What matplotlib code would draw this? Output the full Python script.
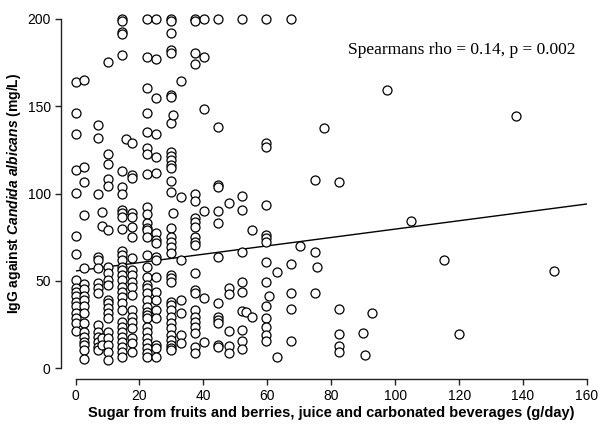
import numpy as np
import matplotlib
matplotlib.use("Agg")
import matplotlib.pyplot as plt

# x position of each column of points (g/day) and the IgG values in it (mg/L)
col_x = [0, 2.8, 7.1, 8.2, 10.3, 14.6, 15.8, 17.8, 22.4, 25.3,
         29.8, 30.6, 32.9, 37.3, 40.3, 44.7, 48.0, 52.2, 53.3, 55.3,
         59.7, 60.6, 62.9, 67.3, 70.2, 74.8, 75.6, 77.8, 82.4, 89.9,
         90.5, 92.9, 97.4, 104.8, 115.2, 119.9, 137.9, 149.8]
col_y = [
    [164, 146, 134, 113.5, 100.5, 75.6, 65.3, 50.2, 45.7, 43.8, 41, 38, 35.3, 31.3, 28.5, 26, 21.4],
    [165, 115, 106.4, 87.7, 57.5, 48.3, 45.2, 41.5, 39, 35.3, 31.5, 25.6, 20.8, 17.5, 15, 13.2, 10.3, 5.3],
    [139.3, 132, 100, 63.8, 61.9, 57.1, 48.5, 45.7, 42.8, 24.6, 20.8, 17.9, 15.1, 12.2, 10.3],
    [89.6, 81.4, 17, 13.2],
    [175.4, 122.5, 116.7, 108.3, 104.5, 79, 58, 54.2, 50.4, 47.6, 39, 37, 34.2, 31.3, 28.5, 20.8, 17, 13.2, 9.4, 4.6],
    [200, 199, 192.3, 191.5, 179.4, 113, 103.5, 100, 90.5, 88.6, 86.3, 79.5, 67, 64.5, 61.9, 58, 56.2, 53.3,
     50.4, 46.6, 43.8, 40.9, 37, 33.2, 26.5, 23.7, 20.8, 17.9, 15.1, 12.2, 9.4, 6.5],
    [131],
    [129, 110.6, 109, 88.6, 86.3, 81, 75, 62.9, 56.2, 53.3, 49.5, 46.6, 41.8, 33.2, 29.4, 26.5, 22.7, 17, 14.1, 9.4],
    [200, 178, 160.3, 146.3, 135.2, 125.9, 122.4, 111, 92.5, 88, 83, 80, 79, 75, 64.8, 58, 52.3, 47.6, 45.7,
     42.8, 39, 35.1, 32.3, 30.4, 28.5, 23.7, 20.8, 17, 14.1, 11.3, 8.4, 6.5],
    [200, 177, 155, 134, 121, 111.5, 77.2, 73.4, 71.5, 63.4, 61.9, 52.3, 43.8, 39, 33.2, 28.5, 13.2, 11.3, 6.5],
    [200, 199, 192, 182.2, 180.3, 156.5, 155.5, 140.2, 124, 121.7, 119.2, 116.3, 114.4, 107.3, 101, 80, 75.2,
     72.4, 69.5, 65.7, 53.3, 51.4, 49.5, 38, 36.1, 33.2, 29.4, 25.6, 22.7, 18.9, 16, 13.2, 11.3, 10.3],
    [145.2, 88.6],
    [164.5, 97.8, 61.9, 39, 31.3, 18.9, 14.1],
    [200, 199, 180.3, 174.2, 100, 95.9, 85.8, 83.9, 81, 75, 72.4, 70.5, 54.2, 44.7, 42.8, 33.2, 29.4, 26.5,
     23.7, 19.9, 12.2, 8.4],
    [200, 178, 148.2, 90.2, 39.9, 15.1],
    [200, 138.3, 104.9, 103.9, 90, 83.3, 63.8, 37, 29.4, 27.5, 25.6, 13.2, 12.2],
    [94.4, 46, 42.3, 21.3, 12.7, 8.4],
    [200, 98.7, 90.5, 66.6, 49.3, 43.5, 32.5, 22, 15.7, 11],
    [32],
    [79.1, 29.4],
    [200, 128.8, 126.5, 93.4, 76.2, 74.3, 72.4, 60.6, 49.5, 35.5, 28.5, 23.7, 18.9, 15.5],
    [41.3],
    [55.2, 6.5],
    [200, 59.4, 42.8, 33.8, 15.6],
    [69.9],
    [107.7, 66.6, 42.8],
    [58],
    [137.4],
    [106.8, 33.6, 19.3, 12.8, 9.3],
    [19.9],
    [7.4],
    [31.7],
    [159.3],
    [84.2],
    [61.9],
    [19.3],
    [144.4],
    [55.8],
]

# fitted line end points
fit_x = [0, 160]
fit_y = [55.6, 94]

x_ticks = [0, 20, 40, 60, 80, 100, 120, 140, 160]
y_ticks = [0, 50, 100, 150, 200]

sugar = np.concatenate([[cx] * len(ys) for cx, ys in zip(col_x, col_y)])
igg = np.concatenate(col_y)

plt.rcParams['font.family'] = ['Liberation Sans', 'DejaVu Sans']
plt.rcParams['mathtext.fontset'] = 'custom'
plt.rcParams['mathtext.it'] = 'Liberation Sans:italic:bold'
plt.rcParams['mathtext.rm'] = 'Liberation Sans:bold'

fig = plt.figure(figsize=(6, 4.28), dpi=100)
ax = fig.add_axes([75.5 / 600, 60 / 428, 511.5 / 600, 349 / 428])

ax.scatter(sugar, igg, s=42, facecolors='white', edgecolors='black',
           linewidths=0.9, clip_on=False, zorder=3)
ax.plot(fit_x, fit_y, color='black', lw=1.0, zorder=2)

ax.set_xlim(0, 160)
ax.set_ylim(0, 200)
ax.set_xticks(x_ticks)
ax.set_yticks(y_ticks)

for side in ['top', 'right']:
    ax.spines[side].set_visible(False)
ax.spines['left'].set_position(('outward', 10.4))
ax.spines['bottom'].set_position(('outward', 7.9))
ax.spines['left'].set_bounds(0, 200)
ax.spines['bottom'].set_bounds(0, 160)
for side in ['left', 'bottom']:
    ax.spines[side].set_linewidth(1.0)
    ax.spines[side].set_color('#222222')
ax.tick_params(length=4.5, width=1.0, color='#222222', labelsize=10, pad=3)

ax.set_xlabel('Sugar from fruits and berries, juice and carbonated beverages (g/day)',
              fontsize=10.5, fontweight='bold', labelpad=2)
ax.set_ylabel(r'IgG against $\it{Candida\ albicans}$ (mg/L)',
              fontsize=10, fontweight='bold', labelpad=3)

ax.text(0.977, 0.911, 'Spearmans rho = 0.14, p = 0.002', transform=ax.transAxes,
        ha='right', va='center', fontsize=12.5, family='Liberation Serif')

fig.savefig('out.png', dpi=100, facecolor='white')
